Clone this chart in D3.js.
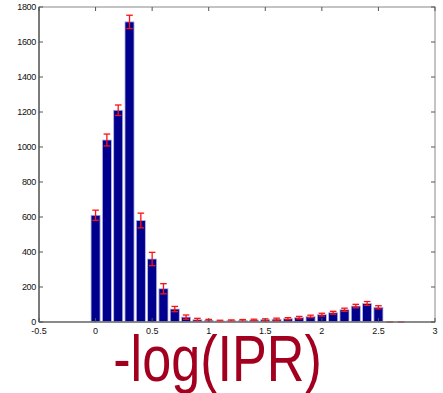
<!DOCTYPE html>
<html>
<head>
<meta charset="utf-8">
<script src="https://cdn.jsdelivr.net/npm/d3@7"></script>
<style>
  body { margin: 0; background: #fff; }
  svg { display: block; font-family: "Liberation Sans", Arial, sans-serif; }
</style>
</head>
<body>
<svg id="chart" width="443" height="393"></svg>
<script>
// bin centres of -log(IPR) histogram
const bins = [0, 0.1, 0.2, 0.3, 0.4, 0.5, 0.6, 0.7, 0.8, 0.9, 1.0, 1.1, 1.2, 1.3,
  1.4, 1.5, 1.6, 1.7, 1.8, 1.9, 2.0, 2.1, 2.2, 2.3, 2.4, 2.5, 2.6, 2.7];
const counts = [610, 1040, 1210, 1715, 580, 360, 190, 74, 28, 13, 10, 6, 8, 9,
  11, 13, 16, 19, 25, 32, 42, 53, 70, 91, 106, 84, 0, 0];
const errors = [29, 34, 30, 38, 42, 38, 29, 15, 12, 8, 5, 4, 4, 5,
  5, 5, 6, 6, 7, 7, 8, 8, 9, 10, 11, 9, 2, 2];
const xTicks = [-0.5, 0, 0.5, 1, 1.5, 2, 2.5, 3];
const yTicks = [0, 200, 400, 600, 800, 1000, 1200, 1400, 1600, 1800];
const xLabel = "-log(IPR)";

const svg = d3.select("#chart");
const x0 = 39, x1 = 435, yTop = 7, yBot = 322;

const x = d3.scaleLinear().domain([-0.5, 3]).range([x0, x1]);
const y = d3.scaleLinear().domain([0, 1800]).range([yBot, yTop]);
const barW = (x(0.1) - x(0)) * 0.8;

const data = bins.map((b, i) => ({ b, n: counts[i], e: errors[i] }));

// bars
svg.append("g")
  .selectAll("rect")
  .data(data.filter(d => d.n > 0))
  .enter()
  .append("rect")
  .attr("x", d => x(d.b) - barW / 2)
  .attr("y", d => y(d.n))
  .attr("width", barW)
  .attr("height", d => y(0) - y(d.n))
  .attr("fill", "#00008f")
  .attr("stroke", "#b8b8e0")
  .attr("stroke-width", 0.8);

// error bars
const eb = svg.append("g")
  .attr("stroke", "#ff1010")
  .attr("stroke-width", 1.3)
  .selectAll("g")
  .data(data)
  .enter()
  .append("g");
const cap = 3.3;
eb.append("line")
  .attr("x1", d => x(d.b)).attr("x2", d => x(d.b))
  .attr("y1", d => y(d.n - d.e)).attr("y2", d => y(d.n + d.e));
eb.append("line")
  .attr("x1", d => x(d.b) - cap).attr("x2", d => x(d.b) + cap)
  .attr("y1", d => y(d.n + d.e)).attr("y2", d => y(d.n + d.e));
eb.append("line")
  .attr("x1", d => x(d.b) - cap).attr("x2", d => x(d.b) + cap)
  .attr("y1", d => y(d.n - d.e)).attr("y2", d => y(d.n - d.e));

// axes box
svg.append("rect")
  .attr("x", x0).attr("y", yTop)
  .attr("width", x1 - x0).attr("height", yBot - yTop)
  .attr("fill", "none")
  .attr("stroke", "#888")
  .attr("stroke-width", 1);
svg.append("line")
  .attr("x1", x0).attr("x2", x0).attr("y1", yTop).attr("y2", yBot)
  .attr("stroke", "#333");
svg.append("line")
  .attr("x1", x0).attr("x2", x1).attr("y1", yBot).attr("y2", yBot)
  .attr("stroke", "#777").attr("stroke-width", 1.6);

const tickLen = 4;
// x ticks (bottom and top, inward)
const xt = svg.append("g").attr("stroke", "#555");
xTicks.forEach(t => {
  xt.append("line").attr("x1", x(t)).attr("x2", x(t)).attr("y1", yBot).attr("y2", yBot - tickLen);
  xt.append("line").attr("x1", x(t)).attr("x2", x(t)).attr("y1", yTop).attr("y2", yTop + tickLen);
});
// y ticks (left and right, inward)
const yt = svg.append("g").attr("stroke", "#555");
yTicks.forEach(t => {
  yt.append("line").attr("x1", x0).attr("x2", x0 + tickLen).attr("y1", y(t)).attr("y2", y(t));
  yt.append("line").attr("x1", x1).attr("x2", x1 - tickLen).attr("y1", y(t)).attr("y2", y(t));
});

// tick labels
svg.append("g")
  .selectAll("text")
  .data(xTicks)
  .enter()
  .append("text")
  .attr("x", d => x(d))
  .attr("y", yBot + 12)
  .attr("text-anchor", "middle")
  .attr("font-size", "9px")
  .attr("fill", "#111")
  .text(d => d);

svg.append("g")
  .selectAll("text")
  .data(yTicks)
  .enter()
  .append("text")
  .attr("x", x0 - 3)
  .attr("y", d => y(d) + 3)
  .attr("text-anchor", "end")
  .attr("font-size", "9px")
  .attr("letter-spacing", "-0.3px")
  .attr("fill", "#111")
  .text(d => d);

// x label (big, condensed, like the original figure)
svg.append("text")
  .attr("transform", "translate(217.5,381) scale(0.815,1)")
  .attr("text-anchor", "middle")
  .attr("font-size", "64px")
  .attr("fill", "#a3001f")
  .text(xLabel);
</script>
</body>
</html>
